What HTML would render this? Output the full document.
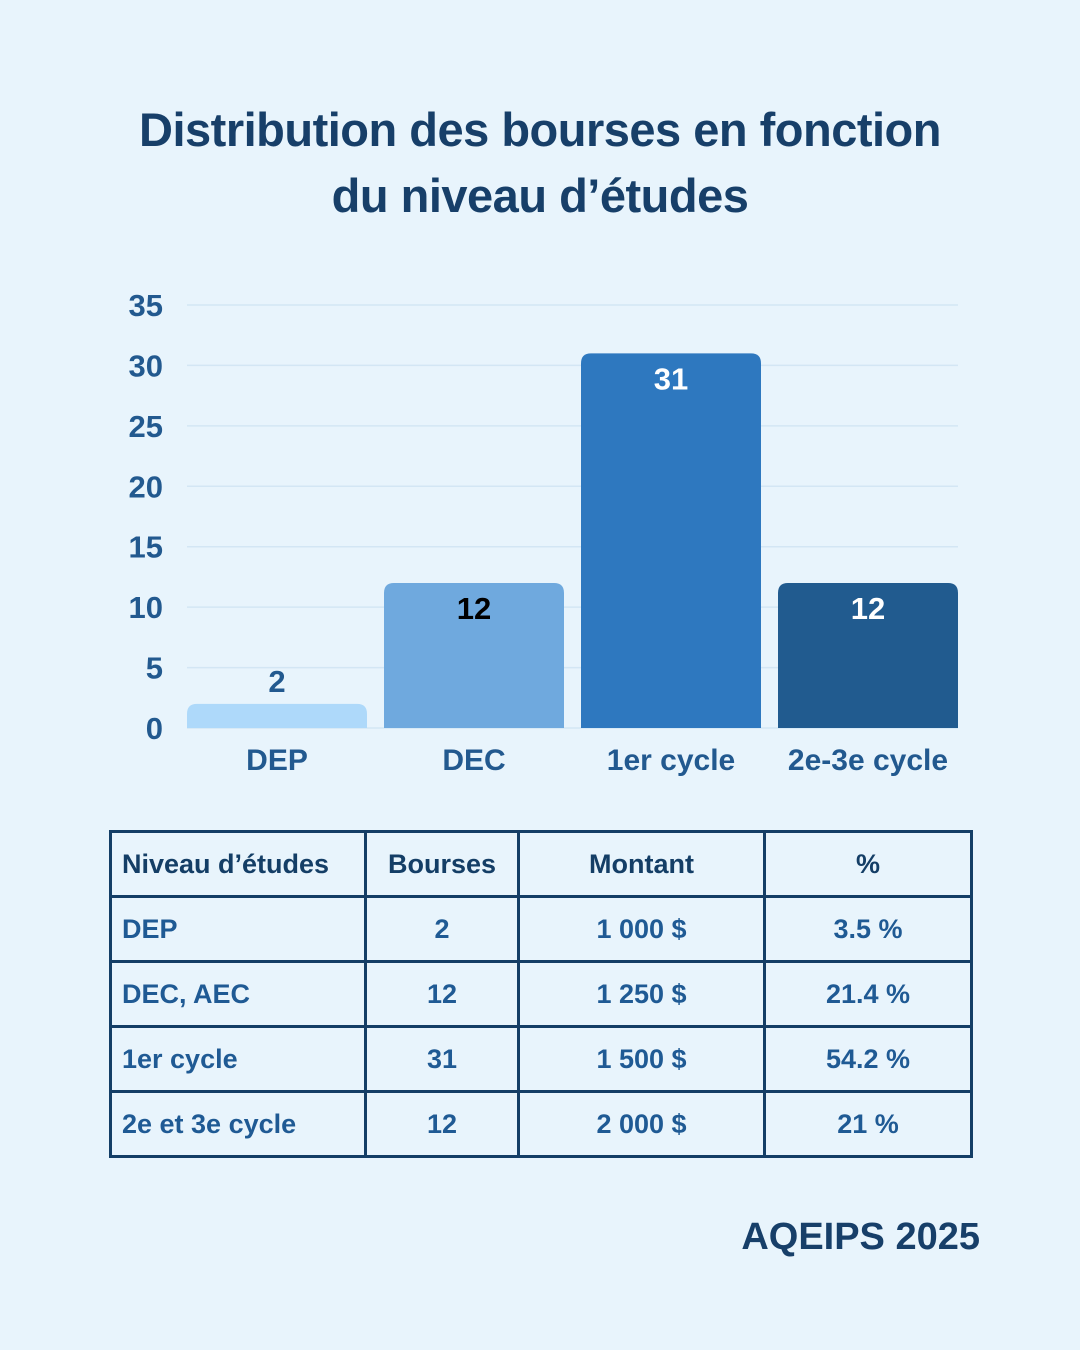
<!DOCTYPE html>
<html><head><meta charset="utf-8"><style>
body{margin:0;width:1080px;height:1350px;background:#e8f4fc;font-family:"Liberation Sans",sans-serif;overflow:hidden;position:relative}
.t{position:absolute;left:0;width:1080px;text-align:center;color:#173f69;font-weight:bold;font-size:47px;letter-spacing:-0.5px}
table{position:absolute;left:109px;top:830px;border-collapse:collapse;font-weight:bold;font-size:27px;color:#1f5a94}
td{border:3px solid #143e66;height:62px;padding:0 10px;text-align:center}
td:first-child{text-align:left}
tr.h td{color:#143e66}
</style></head><body>
<div class="t" style="top:102px">Distribution des bourses en fonction</div>
<div class="t" style="top:168px">du niveau d’études</div>
<svg id="c" width="1080" height="800" style="position:absolute;left:0;top:0"></svg>
<table>
<colgroup><col style="width:255px"><col style="width:153px"><col style="width:246px"><col style="width:207px"></colgroup>
<tr class="h"><td>Niveau d’études</td><td>Bourses</td><td>Montant</td><td>%</td></tr>
<tr><td>DEP</td><td>2</td><td>1 000 $</td><td>3.5 %</td></tr>
<tr><td>DEC, AEC</td><td>12</td><td>1 250 $</td><td>21.4 %</td></tr>
<tr><td>1er cycle</td><td>31</td><td>1 500 $</td><td>54.2 %</td></tr>
<tr><td>2e et 3e cycle</td><td>12</td><td>2 000 $</td><td>21 %</td></tr>
</table>
<div style="position:absolute;left:700px;width:280px;text-align:right;top:1216px;font-weight:bold;font-size:38px;color:#173f69">AQEIPS 2025</div>
<script>
const categories=["DEP","DEC","1er cycle","2e-3e cycle"];
const values=[2,12,31,12];
const ticks=[0,5,10,15,20,25,30,35];
const colors=["#aed9fa","#6fa9de","#2e78bf","#215b8f"];
const labelColors=["#22598f","#000000","#ffffff","#ffffff"];
const svg=document.getElementById('c');const ns="http://www.w3.org/2000/svg";
const y0=728,pxPer=(728-305)/35,x0=187,step=197,bw=180;
const y=v=>y0-v*pxPer;
function mk(t,a,txt){const e=document.createElementNS(ns,t);for(const k in a)e.setAttribute(k,a[k]);if(txt!=null)e.textContent=txt;svg.appendChild(e);return e;}
ticks.forEach(t=>{
 const g=mk('line',{x1:187,x2:958,y1:y(t),y2:y(t),stroke:'#d3e6f4','stroke-width':1.5});
 
 
 const l=mk('text',{x:163,y:y(t)+11,'text-anchor':'end','font-size':31,'font-weight':'bold',fill:'#22598f','font-family':'Liberation Sans'},t);
 
 
});
values.forEach((v,i)=>{
 const x=x0+i*step,top=y(v),h=y0-top,r=Math.min(10,h/2);
 const p=mk('path',{d:`M${x},${y0}V${top+r}Q${x},${top} ${x+r},${top}H${x+bw-r}Q${x+bw},${top} ${x+bw},${top+r}V${y0}Z`,fill:colors[i]});
 
 
 const inside=h>60;
 const vl=mk('text',{x:x+bw/2,y:inside?top+36:top-12,'text-anchor':'middle','font-size':31,'font-weight':'bold',fill:inside?labelColors[i]:'#22598f','font-family':'Liberation Sans'},v);
 
 
 const cl=mk('text',{x:x+bw/2,y:770,'text-anchor':'middle','font-size':30,'font-weight':'bold',fill:'#22598f','font-family':'Liberation Sans'},categories[i]);
 
 
});
</script>
</body></html>
